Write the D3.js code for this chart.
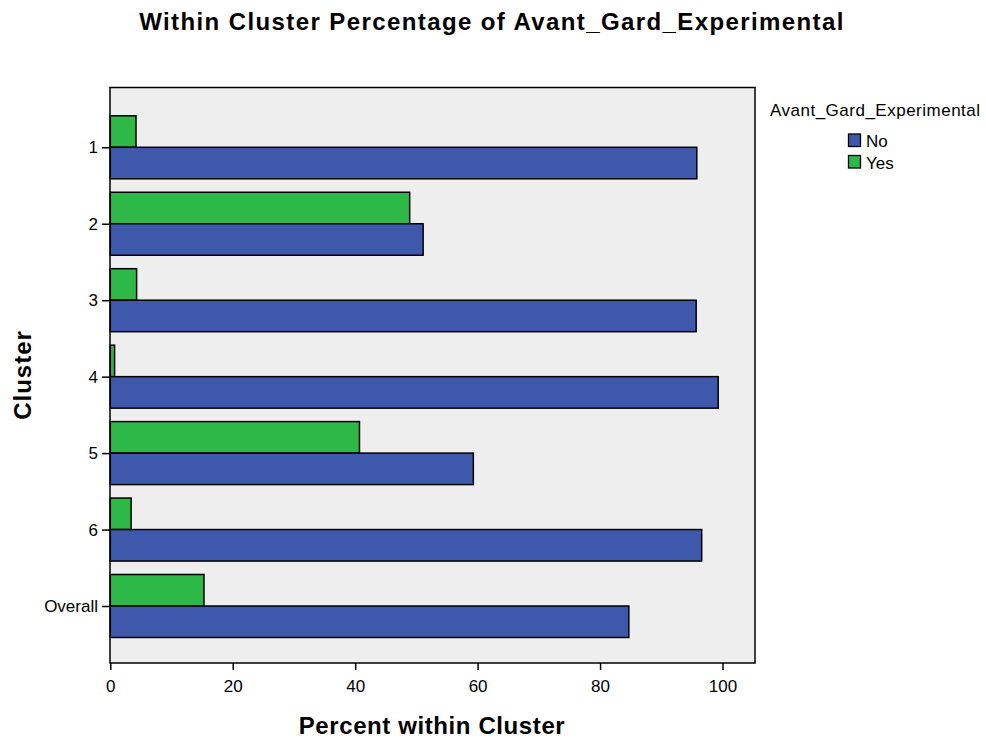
<!DOCTYPE html>
<html><head><meta charset="utf-8">
<script src="https://cdn.jsdelivr.net/npm/d3@7"></script>
<style>body{margin:0;background:#fff}svg{display:block}text{font-family:"Liberation Sans",Arial,sans-serif}</style>
</head><body><svg id="c" width="986" height="740"></svg>
<script>
const categories = ["1","2","3","4","5","6","Overall"];
const seriesNames = ["No","Yes"];
const noValues  = [95.8, 51.1, 95.7, 99.3, 59.3, 96.6, 84.7];
const yesValues = [4.2, 48.9, 4.3, 0.7, 40.7, 3.4, 15.3];
const xTicks = [0,20,40,60,80,100];
const colors = {No:"#3E58AC", Yes:"#2EB848"};

const svg = d3.select("#c");
const plot = {left:110, right:755, top:87.5, bottom:663};
const x = d3.scaleLinear().domain([0,100]).range([110.3, 722.5]);
const y = d3.scalePoint().domain(categories).range([147.3, 606]);
const barH = 31.5;

svg.append("rect").attr("x",plot.left).attr("y",plot.top)
  .attr("width",plot.right-plot.left).attr("height",plot.bottom-plot.top)
  .attr("fill","#EEEEEE").attr("stroke","#000").attr("stroke-width",1.5);

const g = svg.append("g");
categories.forEach((c,i)=>{
  g.append("rect").attr("x",x(0)).attr("y",y(c)-barH)
    .attr("width",x(yesValues[i])-x(0)).attr("height",barH)
    .attr("fill",colors.Yes).attr("stroke","#000").attr("stroke-width",1.5);
  g.append("rect").attr("x",x(0)).attr("y",y(c))
    .attr("width",x(noValues[i])-x(0)).attr("height",barH)
    .attr("fill",colors.No).attr("stroke","#000").attr("stroke-width",1.5);
});

// x axis
const xa = svg.append("g").attr("transform",`translate(0,${plot.bottom})`)
  .call(d3.axisBottom(x).tickValues(xTicks).tickSize(7).tickPadding(10));
xa.select(".domain").remove();
xa.selectAll("line").attr("stroke","#000").attr("stroke-width",1.5);
xa.selectAll("text").attr("font-size",17).attr("fill","#000").attr("font-family","Liberation Sans, Arial, sans-serif");

// y axis
const ya = svg.append("g").attr("transform",`translate(${plot.left},0)`)
  .call(d3.axisLeft(y).tickSize(8).tickPadding(4));
ya.select(".domain").remove();
ya.selectAll("line").attr("stroke","#000").attr("stroke-width",1.5);
ya.selectAll("text").attr("font-size",17).attr("fill","#000").attr("font-family","Liberation Sans, Arial, sans-serif");

// titles
svg.append("text").attr("x",492).attr("y",30).attr("text-anchor","middle")
  .attr("font-size",24).attr("font-weight","bold").attr("letter-spacing",1.4)
  .text("Within Cluster Percentage of Avant_Gard_Experimental");
svg.append("text").attr("x",432).attr("y",734).attr("text-anchor","middle")
  .attr("font-size",24).attr("font-weight","bold").attr("letter-spacing",0.6)
  .text("Percent within Cluster");
svg.append("text").attr("transform","translate(31,375) rotate(-90)").attr("text-anchor","middle")
  .attr("font-size",24).attr("font-weight","bold").attr("letter-spacing",1)
  .text("Cluster");

// legend
const lg = svg.append("g");
lg.append("text").attr("x",770).attr("y",116).attr("font-size",17).attr("letter-spacing",0.5)
  .text("Avant_Gard_Experimental");
seriesNames.forEach((s,i)=>{
  lg.append("rect").attr("x",848.5).attr("y",134+i*21.5).attr("width",12).attr("height",12.5)
    .attr("fill",colors[s]).attr("stroke","#000").attr("stroke-width",1.3);
  lg.append("text").attr("x",866).attr("y",147+i*22).attr("font-size",17).text(s);
});
</script></body></html>
